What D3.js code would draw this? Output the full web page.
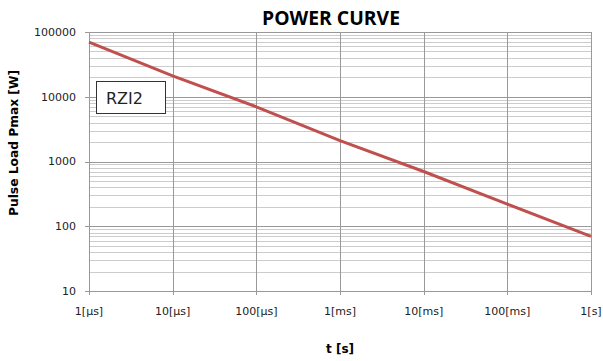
<!DOCTYPE html>
<html>
<head>
<meta charset="utf-8">
<script src="https://cdn.jsdelivr.net/npm/d3@7"></script>
<style>
  body { margin: 0; background: #fff; }
  svg { display: block; }
</style>
</head>
<body>
<svg id="grafico" width="603" height="361"></svg>
<script>
// dados
let tempos = [1e-6, 1e-5, 1e-4, 1e-3, 1e-2, 1e-1, 1];
let potencias = [70000, 21000, 7000, 2100, 700, 220, 70];
let rotulosX = ["1[µs]", "10[µs]", "100[µs]", "1[ms]", "10[ms]", "100[ms]", "1[s]"];
let ticksY = [10, 100, 1000, 10000, 100000];

let svg = d3.select("#grafico");
let margem = { esq: 89, dir: 591, topo: 32, base: 291 };

let fnX = d3.scaleLog().domain([1e-6, 1]).range([margem.esq, margem.dir]);
let fnY = d3.scaleLog().domain([10, 100000]).range([margem.base, margem.topo]);

// grade menor (2..9 de cada década)
let menores = [];
for (let d = 10; d < 100000; d *= 10) {
  for (let k = 2; k <= 9; k++) menores.push(d * k);
}
svg.selectAll(".menor")
  .data(menores)
  .enter()
  .append("line")
  .attr("x1", margem.esq)
  .attr("x2", margem.dir)
  .attr("y1", (d) => Math.round(fnY(d)) + 0.5)
  .attr("y2", (d) => Math.round(fnY(d)) + 0.5)
  .attr("stroke", "#cccccc")
  .attr("stroke-width", 1);

// grade maior
svg.selectAll(".maiorY")
  .data(ticksY)
  .enter()
  .append("line")
  .attr("x1", margem.esq - 4)
  .attr("x2", margem.dir)
  .attr("y1", (d) => Math.round(fnY(d)) + 0.5)
  .attr("y2", (d) => Math.round(fnY(d)) + 0.5)
  .attr("stroke", "#999")
  .attr("stroke-width", 1);

svg.selectAll(".maiorX")
  .data(tempos)
  .enter()
  .append("line")
  .attr("x1", (d) => Math.round(fnX(d)) + 0.5)
  .attr("x2", (d) => Math.round(fnX(d)) + 0.5)
  .attr("y1", margem.topo)
  .attr("y2", margem.base + 4)
  .attr("stroke", "#999")
  .attr("stroke-width", 1);

// eixo Y
svg.selectAll(".rotuloY")
  .data(ticksY)
  .enter()
  .append("text")
  .text((d) => d)
  .attr("x", 76)
  .attr("y", (d) => fnY(d))
  .attr("dy", "0.35em")
  .attr("text-anchor", "end")
  .attr("font-family", "DejaVu Sans")
  .attr("font-size", 11)
  .attr("fill", "#222");

// eixo X
svg.selectAll(".rotuloX")
  .data(tempos)
  .enter()
  .append("text")
  .text((d, i) => rotulosX[i])
  .attr("x", (d) => fnX(d))
  .attr("y", 315)
  .attr("text-anchor", "middle")
  .attr("font-family", "DejaVu Sans")
  .attr("font-size", 11)
  .attr("fill", "#222");

// curva
let linha = d3.line()
  .x((d, i) => fnX(tempos[i]))
  .y((d) => fnY(d));
svg.append("path")
  .datum(potencias)
  .attr("d", linha)
  .attr("fill", "none")
  .attr("stroke", "#c0504d")
  .attr("stroke-width", 3);

// caixa RZI2
svg.append("rect")
  .attr("x", 96.5)
  .attr("y", 81.5)
  .attr("width", 69)
  .attr("height", 32)
  .attr("fill", "#fff")
  .attr("stroke", "#333")
  .attr("stroke-width", 1);
svg.append("text")
  .text("RZI2")
  .attr("x", 106)
  .attr("y", 104)
  .attr("font-family", "DejaVu Sans")
  .attr("font-size", 16)
  .attr("fill", "#222");

// títulos
svg.append("text")
  .text("POWER CURVE")
  .attr("x", 331)
  .attr("y", 25)
  .attr("text-anchor", "middle")
  .attr("font-family", "Open Sans")
  .attr("font-weight", "bold")
  .attr("font-size", 20)
  .attr("textLength", 138)
  .attr("lengthAdjust", "spacingAndGlyphs")
  .attr("fill", "#000");

svg.append("text")
  .text("t [s]")
  .attr("x", 340)
  .attr("y", 353)
  .attr("text-anchor", "middle")
  .attr("font-family", "DejaVu Sans")
  .attr("font-weight", "bold")
  .attr("font-size", 12)
  .attr("fill", "#000");

svg.append("text")
  .text("Pulse Load Pmax [W]")
  .attr("transform", "translate(18,143) rotate(-90)")
  .attr("text-anchor", "middle")
  .attr("font-family", "DejaVu Sans")
  .attr("font-weight", "bold")
  .attr("font-size", 11.5)
  .attr("textLength", 146)
  .attr("lengthAdjust", "spacingAndGlyphs")
  .attr("fill", "#000");
</script>
</body>
</html>
